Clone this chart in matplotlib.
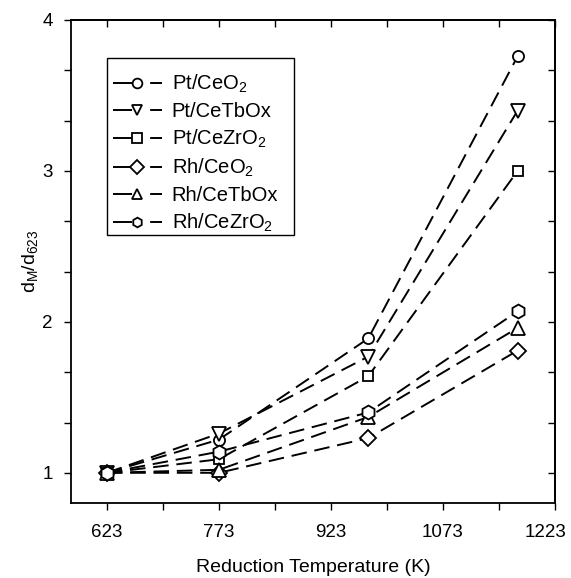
import matplotlib
matplotlib.use("Agg")
import matplotlib.pyplot as plt
from matplotlib.transforms import ScaledTranslation
from matplotlib.patches import Rectangle
import numpy as np

plt.rcParams['font.family'] = ['Liberation Sans', 'DejaVu Sans']
plt.rcParams['mathtext.fontset'] = 'custom'
plt.rcParams['mathtext.rm'] = 'Liberation Sans'
plt.rcParams['mathtext.it'] = 'Liberation Sans'

temps = [623, 773, 973, 1173]
labels = ['Pt/CeO$_2$', 'Pt/CeTbOx', 'Pt/CeZrO$_2$', 'Rh/CeO$_2$', 'Rh/CeTbOx', 'Rh/CeZrO$_2$']
markers = ['o', 'v', 's', 'D', '^', 'h']
msizes = [8, 9.5, 7.5, 8, 9.5, 10]
pt_ceo2 = [1.0, 1.22, 1.89, 3.76]
pt_cetbox = [1.0, 1.26, 1.77, 3.40]
pt_cezro2 = [1.0, 1.09, 1.64, 3.00]
rh_ceo2 = [1.0, 1.0, 1.23, 1.81]
rh_cetbox = [1.0, 1.02, 1.37, 1.96]
rh_cezro2 = [1.0, 1.14, 1.40, 2.07]
series = [pt_ceo2, pt_cetbox, pt_cezro2, rh_ceo2, rh_cetbox, rh_cezro2]

xticks = [623, 698, 773, 848, 923, 998, 1073, 1148, 1223]
xticklabels = ['623', '', '773', '', '923', '', '1073', '', '1223']
yticks = [1, 4/3, 5/3, 2, 7/3, 8/3, 3, 10/3, 11/3, 4]
yticklabels = ['1', '', '', '2', '', '', '3', '', '', '4']

W, H = 571, 578
fig = plt.figure(figsize=(W/100, H/100), dpi=100)
ax = fig.add_axes([71/W, 1-503/H, (555-71)/W, (503-20)/H])

for vals, lab, m, ms in zip(series, labels, markers, msizes):
    ax.plot(temps, vals, color='black', lw=1.4, dashes=(8, 4),
            marker=m, markersize=ms, markerfacecolor='white',
            markeredgecolor='black', markeredgewidth=1.3, label=lab)

ax.set_xlim(575, 1223)
ax.set_ylim(0.8, 4.0)
ax.set_xticks(xticks)
ax.set_xticklabels(xticklabels, fontsize=13.5)
ax.set_yticks(yticks)
ax.set_yticklabels(yticklabels, fontsize=13.5)
ax.tick_params(axis='x', which='major', direction='out', length=5, width=1.0, pad=10)
ax.tick_params(axis='y', which='major', direction='out', length=5, width=1.0, pad=8)
lastlab = ax.get_xticklabels()[-1]
lastlab.set_transform(lastlab.get_transform() + ScaledTranslation(-9/100, 0, fig.dpi_scale_trans))

# inward ticks on top and right
axt = ax.secondary_xaxis('top')
axt.set_xticks(xticks)
axt.set_xticklabels([])
axt.tick_params(direction='in', length=5, width=1.0)
axr = ax.secondary_yaxis('right')
axr.set_yticks(yticks)
axr.set_yticklabels([])
axr.tick_params(direction='in', length=5, width=1.0)
for s in ['top', 'right', 'left', 'bottom']:
    ax.spines[s].set_linewidth(1.3)
axt.spines['top'].set_linewidth(1.3)
axr.spines['right'].set_linewidth(1.3)

ax.set_xlabel('Reduction Temperature (K)', fontsize=14, labelpad=13)
ax.set_ylabel('d$_\\mathregular{M}$/d$_\\mathregular{623}$', fontsize=14, labelpad=2)

leg = ax.legend(loc='upper left', bbox_to_anchor=(113/W, 1-73/H), bbox_transform=fig.transFigure,
                frameon=False, fontsize=14.5,
                handlelength=2.42, labelspacing=0.34, borderpad=0, handletextpad=0.5,
                borderaxespad=0)
for h in leg.legend_handles:
    h.set_markersize(7)
    h.set_dashes((9.8, 9.3, 6.2, 10))

box = Rectangle((107/W, 1-235/H), 187/W, 177/H, transform=fig.transFigure,
                fill=False, edgecolor='black', lw=1.0)
fig.patches.append(box)

fig.savefig('out.png', dpi=100)
